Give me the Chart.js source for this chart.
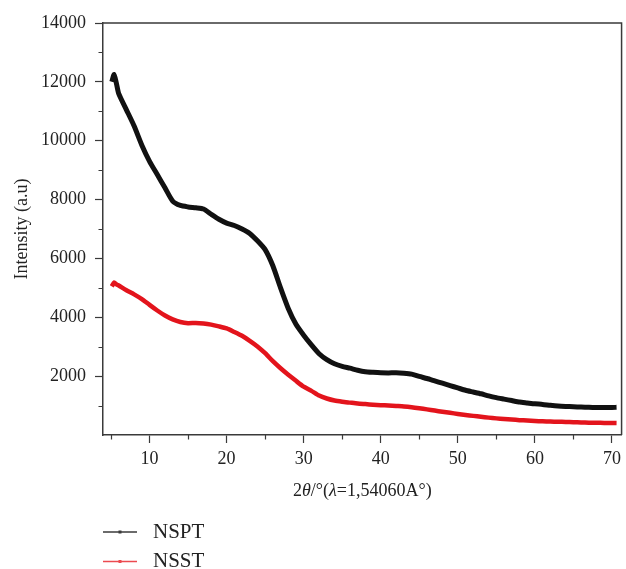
<!DOCTYPE html>
<html>
<head>
<meta charset="utf-8">
<script src="https://cdn.jsdelivr.net/npm/chart.js@4/dist/chart.umd.min.js"></script>
<style>
    html, body { margin: 0; padding: 0; background: #fff; }
    #wrap { width: 626px; height: 569px; }
</style>
</head>
<body>
<div id="wrap"><canvas id="xrd" width="626" height="569"></canvas></div>
<script>
// 2θ positions (degrees) and measured intensities
const angles = [5.1, 5.4, 5.7, 6, 7, 8, 9, 10, 11, 12, 13, 14, 15, 16, 17, 18, 19, 20,
    21, 22, 23, 24, 25, 26, 27, 28, 29, 30, 31, 32, 33, 34, 35, 36, 37, 38, 39, 40,
    41, 42, 43, 44, 45, 46, 47, 48, 49, 50, 51, 52, 53, 54, 55, 56, 57, 58, 59, 60,
    61, 62, 63, 64, 65, 66, 67, 68, 69, 70, 70.6];

const nspt = [12000, 12250, 11950, 11600, 11050, 10500, 9850, 9300, 8850, 8400, 7950,
    7800, 7750, 7720, 7680, 7500, 7330, 7200, 7120, 7000, 6850, 6600, 6300, 5750, 5000,
    4300, 3760, 3390, 3060, 2760, 2560, 2420, 2330, 2270, 2200, 2150, 2130, 2115, 2110,
    2115, 2100, 2070, 1990, 1920, 1840, 1760, 1680, 1600, 1520, 1460, 1400, 1330, 1270,
    1220, 1170, 1120, 1090, 1060, 1040, 1010, 985, 970, 960, 950, 940, 935, 935, 935, 940];

const nsst = [5050, 5180, 5120, 5080, 4920, 4780, 4620, 4420, 4230, 4060, 3930, 3840,
    3800, 3810, 3790, 3750, 3690, 3620, 3500, 3370, 3200, 3010, 2780, 2510, 2270, 2050,
    1840, 1640, 1500, 1340, 1240, 1170, 1130, 1100, 1070, 1050, 1030, 1015, 1000, 985,
    970, 945, 910, 870, 830, 790, 755, 715, 680, 650, 620, 590, 565, 545, 525, 505, 490,
    475, 465, 455, 450, 445, 435, 428, 420, 415, 412, 412, 410];

const seriesNames = ['NSPT', 'NSST'];
const seriesColors = ['#111111', '#e3141c'];
const legendColors = ['#3a3a3a', '#ec4a50'];

const xTicks = [10, 20, 30, 40, 50, 60, 70];
const xMinorTicks = [5, 15, 25, 35, 45, 55, 65];
const yTicks = [2000, 4000, 6000, 8000, 10000, 12000, 14000];
const yMinorTicks = [1000, 3000, 5000, 7000, 9000, 11000, 13000];

const SERIF = "'Liberation Serif', 'DejaVu Serif', serif";
const AXIS = '#3a3a3a';

// frame, minor ticks, x title with italic symbols, and the legend underneath
const extras = {
    id: 'extras',
    afterDraw(chart) {
        const { ctx, chartArea: a, scales } = chart;
        ctx.save();
        ctx.strokeStyle = AXIS;
        ctx.lineWidth = 1.5;
        ctx.beginPath();
        ctx.moveTo(a.left, a.top);
        ctx.lineTo(a.right, a.top);
        ctx.lineTo(a.right, a.bottom);
        ctx.stroke();

        ctx.lineWidth = 1.2;
        ctx.beginPath();
        xMinorTicks.forEach((v) => {
            const px = Math.round(scales.x.getPixelForValue(v)) + 0.5;
            ctx.moveTo(px, a.bottom);
            ctx.lineTo(px, a.bottom + 4.5);
        });
        yMinorTicks.forEach((v) => {
            const py = Math.round(scales.y.getPixelForValue(v)) + 0.5;
            ctx.moveTo(a.left, py);
            ctx.lineTo(a.left - 4.5, py);
        });
        ctx.stroke();

        // 2θ/°(λ=1,54060A°)
        const parts = [
            ['2', false], ['θ', true], ['/°(', false], ['λ', true], ['=1,54060A°)', false],
        ];
        const fontFor = (it) => (it ? 'italic ' : '') + '18px ' + SERIF;
        let total = 0;
        parts.forEach((p) => { ctx.font = fontFor(p[1]); total += ctx.measureText(p[0]).width; });
        let tx = (a.left + a.right) / 2 - total / 2;
        ctx.fillStyle = '#222';
        ctx.textBaseline = 'middle';
        ctx.textAlign = 'left';
        parts.forEach((p) => {
            ctx.font = fontFor(p[1]);
            ctx.fillText(p[0], tx, 491);
            tx += ctx.measureText(p[0]).width;
        });

        // legend
        seriesNames.forEach((name, i) => {
            const y = 532 + i * 29.5;
            ctx.strokeStyle = legendColors[i];
            ctx.lineWidth = 1.6;
            ctx.beginPath();
            ctx.moveTo(103, y);
            ctx.lineTo(137, y);
            ctx.stroke();
            ctx.fillStyle = legendColors[i];
            ctx.fillRect(118.5, y - 1.5, 3, 3);
            ctx.fillStyle = '#222';
            ctx.font = '21px ' + SERIF;
            ctx.fillText(name, 153, y);
        });
        ctx.restore();
    },
};

new Chart(document.getElementById('xrd'), {
    type: 'line',
    data: {
        datasets: [
            {
                label: seriesNames[0],
                data: angles.map((x, i) => ({ x, y: nspt[i] })),
                borderColor: seriesColors[0],
                borderWidth: 5,
                pointRadius: 0,
                tension: 0.2,
            },
            {
                label: seriesNames[1],
                data: angles.map((x, i) => ({ x, y: nsst[i] })),
                borderColor: seriesColors[1],
                borderWidth: 4.5,
                pointRadius: 0,
                tension: 0.2,
            },
        ],
    },
    options: {
        responsive: false,
        animation: false,
        layout: { padding: { top: 23, right: 3, left: 0, bottom: 0 } },
        plugins: { legend: { display: false }, tooltip: { enabled: false } },
        scales: {
            x: {
                type: 'linear',
                min: 3.96,
                max: 71.25,
                afterBuildTicks: (s) => { s.ticks = xTicks.map((v) => ({ value: v })); },
                afterFit: (s) => { s.height = 134; },
                grid: { display: true, drawOnChartArea: false, drawTicks: true, tickLength: 8, tickColor: AXIS, tickWidth: 1.2 },
                border: { display: true, color: AXIS, width: 1.5 },
                ticks: { color: '#222', font: { family: SERIF, size: 18 }, padding: 5, maxRotation: 0, autoSkip: false, callback: (v) => String(v) },
                title: { display: false },
            },
            y: {
                type: 'linear',
                min: 0,
                max: 14000,
                afterBuildTicks: (s) => { s.ticks = yTicks.map((v) => ({ value: v })); },
                afterFit: (s) => { s.width = 103; },
                grid: { display: true, drawOnChartArea: false, drawTicks: true, tickLength: 8, tickColor: AXIS, tickWidth: 1.2 },
                border: { display: true, color: AXIS, width: 1.5 },
                ticks: { color: '#222', font: { family: SERIF, size: 18 }, padding: 9, autoSkip: false, callback: (v) => String(v) },
                title: {
                    display: true,
                    text: 'Intensity (a.u)',
                    color: '#222',
                    font: { family: SERIF, size: 18 },
                    padding: { top: 11, bottom: 0 },
                },
            },
        },
    },
    plugins: [extras],
});
</script>
</body>
</html>
